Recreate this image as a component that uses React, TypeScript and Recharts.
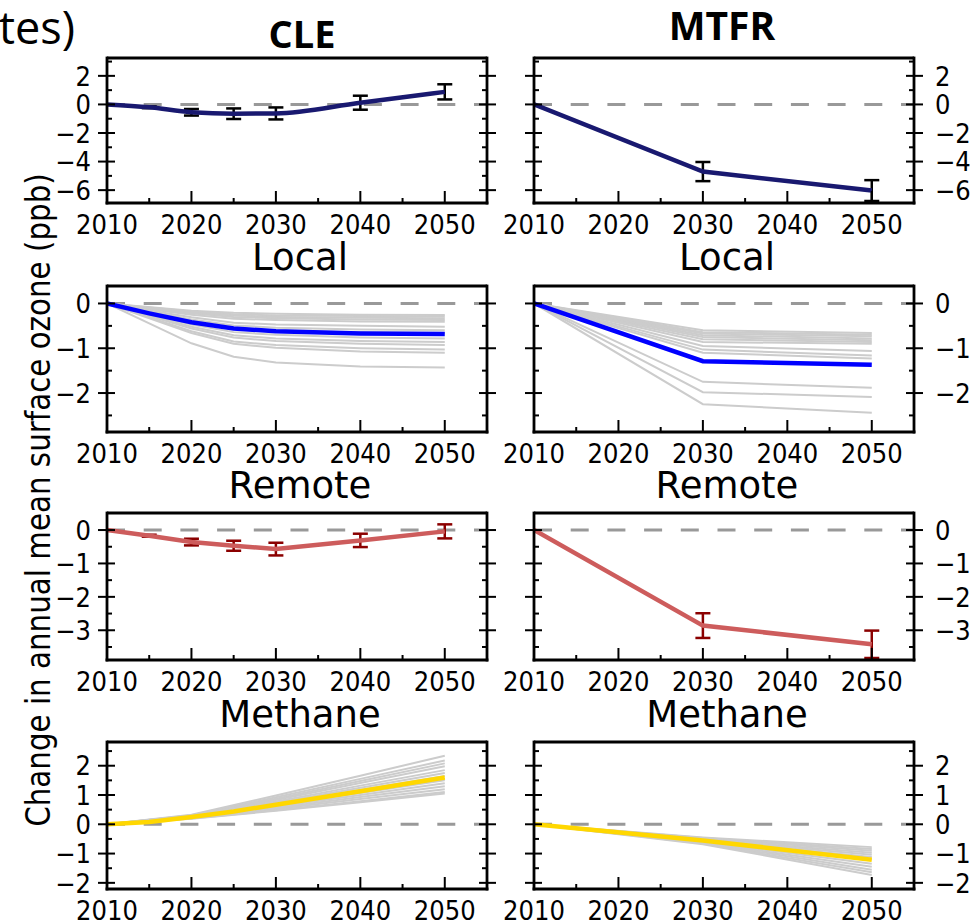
import React from 'react';
import { LineChart, Line, XAxis, YAxis, ReferenceLine, ErrorBar } from 'recharts';

// years sampled by each scenario
const cleYears = [2010, 2015, 2020, 2025, 2030, 2040, 2050];
const mtfrYears = [2010, 2030, 2050];

// total change (ppb) with error bars
const cleTotal = [0, -0.2, -0.55, -0.65, -0.63, 0.12, 0.88];
const cleTotalErr = [0, 0.06, 0.23, 0.37, 0.42, 0.49, 0.53];
const mtfrTotal = [0, -4.7, -6.03];
const mtfrTotalErr = [0, 0.67, 0.73];

// local emissions contribution
const cleLocal = [0, -0.22, -0.42, -0.56, -0.62, -0.67, -0.68];
const cleLocalMembers = [
  [0, null, -0.16, -0.21, -0.23, -0.25, -0.26],
  [0, null, -0.18, -0.24, -0.27, -0.28, -0.29],
  [0, null, -0.2, -0.27, -0.3, -0.32, -0.33],
  [0, null, -0.22, -0.3, -0.33, -0.36, -0.37],
  [0, null, -0.25, -0.34, -0.37, -0.4, -0.41],
  [0, null, -0.31, -0.43, -0.47, -0.5, -0.52],
  [0, null, -0.36, -0.49, -0.54, -0.58, -0.6],
  [0, null, -0.4, -0.55, -0.6, -0.64, -0.66],
  [0, null, -0.47, -0.64, -0.7, -0.76, -0.78],
  [0, null, -0.52, -0.71, -0.78, -0.84, -0.86],
  [0, null, -0.56, -0.76, -0.84, -0.9, -0.93],
  [0, null, -0.62, -0.85, -0.93, -1.0, -1.03],
  [0, null, -0.66, -0.9, -0.99, -1.07, -1.1],
  [0, null, -0.89, -1.19, -1.32, -1.41, -1.43],
];
const mtfrLocal = [0, -1.29, -1.37];
const mtfrLocalMembers = [
  [0, -0.6, -0.66],
  [0, -0.64, -0.7],
  [0, -0.67, -0.73],
  [0, -0.71, -0.78],
  [0, -0.75, -0.82],
  [0, -0.8, -0.86],
  [0, -0.86, -0.9],
  [0, -0.95, -1.06],
  [0, -1.03, -1.16],
  [0, -1.1, -1.23],
  [0, -1.75, -1.88],
  [0, -1.98, -2.09],
  [0, -2.25, -2.44],
];

// remote emissions contribution
const cleRemote = [0, -0.17, -0.36, -0.47, -0.57, -0.31, -0.04];
const cleRemoteErr = [0, 0.03, 0.1, 0.15, 0.19, 0.2, 0.21];
const mtfrRemote = [0, -2.86, -3.42];
const mtfrRemoteErr = [0, 0.37, 0.41];

// methane contribution
const cleMethane = [0, 0.08, 0.25, 0.44, 0.67, 1.13, 1.6];
const cleMethaneMembers = [
  [0, null, 0.33, null, 0.98, 1.66, 2.34],
  [0, null, 0.31, null, 0.92, 1.55, 2.18],
  [0, null, 0.3, null, 0.87, 1.48, 2.08],
  [0, null, 0.29, null, 0.83, 1.41, 1.98],
  [0, null, 0.28, null, 0.78, 1.32, 1.85],
  [0, null, 0.27, null, 0.74, 1.25, 1.75],
  [0, null, 0.26, null, 0.7, 1.18, 1.65],
  [0, null, 0.24, null, 0.64, 1.07, 1.5],
  [0, null, 0.23, null, 0.6, 1.0, 1.4],
  [0, null, 0.22, null, 0.56, 0.93, 1.3],
  [0, null, 0.21, null, 0.52, 0.86, 1.2],
  [0, null, 0.2, null, 0.48, 0.79, 1.1],
  [0, null, 0.19, null, 0.46, 0.75, 1.05],
];
const mtfrMethane = [0, -0.55, -1.21];
const mtfrMethaneMembers = [
  [0, -0.45, -0.78],
  [0, -0.47, -0.84],
  [0, -0.49, -0.9],
  [0, -0.51, -0.97],
  [0, -0.53, -1.04],
  [0, -0.55, -1.12],
  [0, -0.57, -1.2],
  [0, -0.6, -1.35],
  [0, -0.62, -1.45],
  [0, -0.64, -1.55],
  [0, -0.66, -1.64],
  [0, -0.68, -1.73],
];

// tick labels
const xMajorTicks = [2010, 2020, 2030, 2040, 2050];
const xMinorTicks = [2015, 2025, 2035, 2045];
const totalMajor = [-6, -4, -2, 0, 2];
const totalMinor = [-5, -3, -1, 1, 3];
const localMajor = [-2, -1, 0];
const localMinor = [-2.5, -1.5, -0.5];
const remoteMajor = [-3, -2, -1, 0];
const remoteMinor = [-3.5, -2.5, -1.5, -0.5];
const methaneMajor = [-2, -1, 0, 1, 2];
const methaneMinor = [-1.5, -0.5, 0.5, 1.5, 2.5];

const FONT = '"DejaVu Sans", sans-serif';
const TITLE_FONT = '"Open Sans", sans-serif';
const TICK_SIZE = 27;
const TICK_SQUISH = 0.9;
const PLOT_W = 380;
const AXIS_W = 70;
const PAD_TOP = 10;
const X_AXIS_H = 45;
const FRAME = 2.8;

const fmt = (v: number) => (v < 0 ? '\u2212' + Math.abs(v) : String(v));

function XTick(props: any) {
  const { x, y, payload } = props;
  const major = xMajorTicks.includes(payload.value);
  return (
    <g>
      <line x1={x} x2={x} y1={y} y2={y - (major ? 12 : 5)} stroke="#000" strokeWidth={2} />
      {major && (
        <text
          transform={`translate(${x},${y + 30.5}) scale(${TICK_SQUISH},1)`}
          textAnchor="middle"
          fontFamily={FONT}
          fontSize={TICK_SIZE}
          fill="#000"
        >
          {payload.value}
        </text>
      )}
    </g>
  );
}

function YTick(props: any) {
  const { x, y, payload, side, showLabel, majors } = props;
  const major = majors.includes(payload.value);
  const dir = side === 'left' ? 1 : -1;
  const x1 = major ? x - 9 * dir : x;
  const x2 = x + (major ? 8 : 5) * dir;
  const tx = side === 'left' ? x - 16 : x + 21;
  return (
    <g>
      <line x1={x1} x2={x2} y1={y} y2={y} stroke="#000" strokeWidth={2} />
      {major && showLabel && (
        <text
          transform={`translate(${tx},${y + TICK_SIZE * 0.36}) scale(${TICK_SQUISH},1)`}
          textAnchor={side === 'left' ? 'end' : 'start'}
          fontFamily={FONT}
          fontSize={TICK_SIZE}
          fill="#000"
        >
          {fmt(payload.value)}
        </text>
      )}
    </g>
  );
}

type PanelProps = {
  left: number;
  top: number;
  height: number;
  years: number[];
  main: number[];
  err?: number[];
  members?: (number | null)[][];
  color: string;
  errColor?: string;
  smooth?: boolean;
  domain: [number, number];
  major: number[];
  minor: number[];
  labelSide: 'left' | 'right';
};

function Panel(p: PanelProps) {
  const members = p.members || [];
  const rows = p.years.map((year, i) => {
    const row: Record<string, number | null> = { year, main: p.main[i], err: p.err ? p.err[i] : 0 };
    members.forEach((m, j) => {
      row['m' + j] = m[i];
    });
    return row;
  });
  const yTicks = [...p.major, ...p.minor].sort((a, b) => a - b);
  const frameLine = { stroke: '#000', strokeWidth: FRAME, strokeLinecap: 'square' as const };

  return (
    <div style={{ position: 'absolute', left: p.left - AXIS_W, top: p.top - PAD_TOP }}>
      <LineChart
        width={PLOT_W + 2 * AXIS_W}
        height={p.height + PAD_TOP + X_AXIS_H}
        data={rows}
        margin={{ top: PAD_TOP, right: 0, bottom: 0, left: 0 }}
      >
        <XAxis
          dataKey="year"
          type="number"
          domain={[2010, 2055]}
          ticks={[...xMajorTicks, ...xMinorTicks].sort()}
          interval={0}
          tickSize={0}
          tickMargin={0}
          height={X_AXIS_H}
          axisLine={frameLine}
          tick={(t: any) => <XTick {...t} />}
          allowDataOverflow
        />
        <YAxis
          yAxisId="l"
          orientation="left"
          type="number"
          width={AXIS_W}
          domain={p.domain}
          ticks={yTicks}
          interval={0}
          tickSize={0}
          tickMargin={0}
          axisLine={frameLine}
          tick={(t: any) => <YTick {...t} side="left" showLabel={p.labelSide === 'left'} majors={p.major} />}
          allowDataOverflow
        />
        <YAxis
          yAxisId="r"
          orientation="right"
          type="number"
          width={AXIS_W}
          domain={p.domain}
          ticks={yTicks}
          interval={0}
          tickSize={0}
          tickMargin={0}
          axisLine={frameLine}
          tick={(t: any) => <YTick {...t} side="right" showLabel={p.labelSide === 'right'} majors={p.major} />}
          allowDataOverflow
        />
        <ReferenceLine yAxisId="l" y={p.domain[1]} stroke="#000" strokeWidth={FRAME} />
        <ReferenceLine yAxisId="l" y={0} stroke="#999" strokeWidth={3} strokeDasharray="18 18.7" />
        {members.map((_, j) => (
          <Line
            key={j}
            yAxisId="l"
            dataKey={'m' + j}
            stroke="#cccccc"
            strokeWidth={2}
            dot={false}
            connectNulls
            isAnimationActive={false}
          />
        ))}
        <Line
          yAxisId="l"
          dataKey="main"
          type={p.smooth ? 'monotone' : 'linear'}
          stroke={p.color}
          strokeWidth={4.5}
          dot={false}
          isAnimationActive={false}
        >
          {p.err && (
            <ErrorBar
              dataKey="err"
              direction="y"
              width={7.5}
              stroke={p.errColor}
              strokeWidth={2.5}
              isAnimationActive={false}
            />
          )}
        </Line>
      </LineChart>
    </div>
  );
}

const LEFT_X = 107;
const RIGHT_X = 534;
const ROW_TOP = [58, 286, 513, 742];
const ROW_H = [145, 146, 147, 147];

const NAVY = '#191970';
const BLUE = '#0000ff';
const RED = '#cd5c5c';
const DARKRED = '#8b0000';
const GOLD = '#ffd700';

export default function App() {
  const titleProps = { fontFamily: FONT, fontSize: 37, textAnchor: 'middle' as const, fill: '#000' };
  return (
    <div
      style={{
        position: 'absolute',
        left: 0,
        top: 0,
        width: 973,
        height: 923,
        overflow: 'hidden',
        background: '#fff',
      }}
    >
      <Panel left={LEFT_X} top={ROW_TOP[0]} height={ROW_H[0]} years={cleYears} main={cleTotal} err={cleTotalErr}
        color={NAVY} errColor="#000" smooth domain={[-6.9, 3.25]} major={totalMajor} minor={totalMinor} labelSide="left" />
      <Panel left={RIGHT_X} top={ROW_TOP[0]} height={ROW_H[0]} years={mtfrYears} main={mtfrTotal} err={mtfrTotalErr}
        color={NAVY} errColor="#000" domain={[-6.9, 3.25]} major={totalMajor} minor={totalMinor} labelSide="right" />

      <Panel left={LEFT_X} top={ROW_TOP[1]} height={ROW_H[1]} years={cleYears} main={cleLocal} members={cleLocalMembers}
        color={BLUE} domain={[-2.87, 0.39]} major={localMajor} minor={localMinor} labelSide="left" />
      <Panel left={RIGHT_X} top={ROW_TOP[1]} height={ROW_H[1]} years={mtfrYears} main={mtfrLocal} members={mtfrLocalMembers}
        color={BLUE} domain={[-2.87, 0.39]} major={localMajor} minor={localMinor} labelSide="right" />

      <Panel left={LEFT_X} top={ROW_TOP[2]} height={ROW_H[2]} years={cleYears} main={cleRemote} err={cleRemoteErr}
        color={RED} errColor={DARKRED} domain={[-3.89, 0.51]} major={remoteMajor} minor={remoteMinor} labelSide="left" />
      <Panel left={RIGHT_X} top={ROW_TOP[2]} height={ROW_H[2]} years={mtfrYears} main={mtfrRemote} err={mtfrRemoteErr}
        color={RED} errColor={DARKRED} domain={[-3.89, 0.51]} major={remoteMajor} minor={remoteMinor} labelSide="right" />

      <Panel left={LEFT_X} top={ROW_TOP[3]} height={ROW_H[3]} years={cleYears} main={cleMethane} members={cleMethaneMembers}
        color={GOLD} domain={[-2.21, 2.81]} major={methaneMajor} minor={methaneMinor} labelSide="left" />
      <Panel left={RIGHT_X} top={ROW_TOP[3]} height={ROW_H[3]} years={mtfrYears} main={mtfrMethane} members={mtfrMethaneMembers}
        color={GOLD} domain={[-2.21, 2.81]} major={methaneMajor} minor={methaneMinor} labelSide="right" />

      <svg width={973} height={923} style={{ position: 'absolute', left: 0, top: 0, pointerEvents: 'none' }}>
        <text x={-1} y={44} fontFamily={TITLE_FONT} fontSize={45} fill="#000">tes)</text>
        <text x={302} y={48} fontFamily={TITLE_FONT} fontWeight="bold" fontSize={38} textAnchor="middle" fill="#000">CLE</text>
        <text x={722} y={40} fontFamily={TITLE_FONT} fontWeight="bold" fontSize={39} textAnchor="middle" fill="#000">MTFR</text>

        <text x={300} y={270} {...titleProps}>Local</text>
        <text x={727} y={270} {...titleProps}>Local</text>
        <text x={300} y={498} {...titleProps}>Remote</text>
        <text x={727} y={498} {...titleProps}>Remote</text>
        <text x={300} y={727} {...titleProps}>Methane</text>
        <text x={727} y={727} {...titleProps}>Methane</text>

        <text
          transform="translate(50,500) rotate(-90) scale(0.89,1)"
          fontFamily={FONT}
          fontSize={33}
          textAnchor="middle"
          fill="#000"
        >
          Change in annual mean surface ozone (ppb)
        </text>
      </svg>
    </div>
  );
}
